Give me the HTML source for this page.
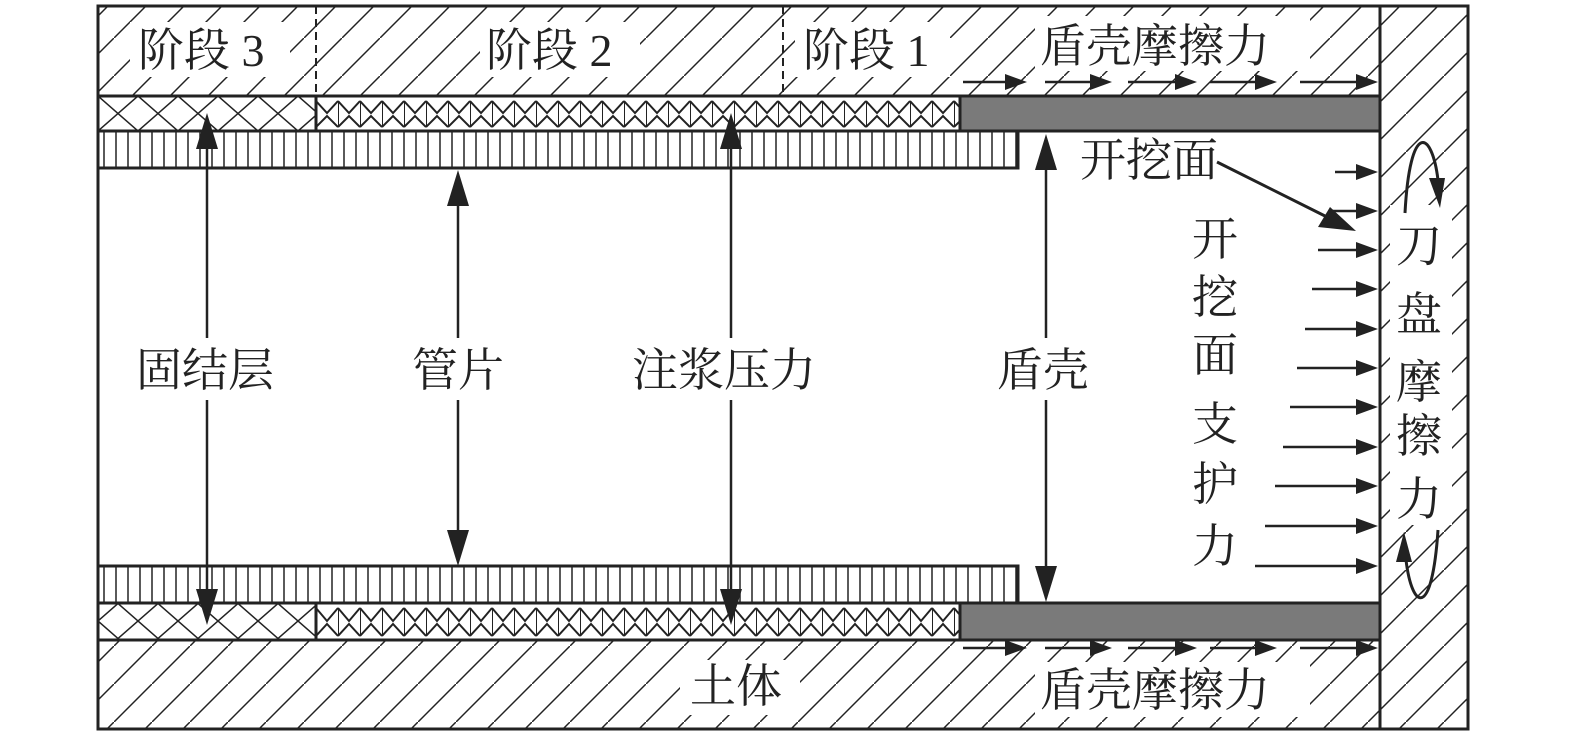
<!DOCTYPE html>
<html><head><meta charset="utf-8"><style>
body{margin:0;background:#fff}
svg{display:block}
text{font-family:"Liberation Serif","Noto Serif CJK SC","Noto Sans CJK SC",serif;fill:#222}
</style></head><body>
<svg width="1575" height="738" viewBox="0 0 1575 738" xmlns="http://www.w3.org/2000/svg">
<defs>
<pattern id="h" patternUnits="userSpaceOnUse" width="38" height="38">
<line x1="0" y1="38" x2="38" y2="0" stroke="#222" stroke-width="1.5"/>
</pattern>
<pattern id="x" patternUnits="userSpaceOnUse" width="40" height="35" x="98" y="96">
<line x1="0" y1="0" x2="40" y2="35" stroke="#222" stroke-width="1.5"/>
<line x1="40" y1="0" x2="0" y2="35" stroke="#222" stroke-width="1.5"/>
</pattern>
<pattern id="z" patternUnits="userSpaceOnUse" width="22" height="35" x="316" y="96">
<polyline points="0,5 11,17 22,5" fill="none" stroke="#222" stroke-width="2"/>
<polyline points="0,31 11,20 22,31" fill="none" stroke="#222" stroke-width="2"/>
<line x1="0" y1="5" x2="0" y2="31" stroke="#222" stroke-width="2"/>
</pattern>
<pattern id="z2" patternUnits="userSpaceOnUse" width="22" height="37" x="316" y="603">
<polyline points="0,5 11,18 22,5" fill="none" stroke="#222" stroke-width="2"/>
<polyline points="0,33 11,21 22,33" fill="none" stroke="#222" stroke-width="2"/>
<line x1="0" y1="5" x2="0" y2="33" stroke="#222" stroke-width="2"/>
</pattern>
<pattern id="v" patternUnits="userSpaceOnUse" width="12" height="40" x="98">
<line x1="6" y1="0" x2="6" y2="40" stroke="#222" stroke-width="1.5"/>
</pattern>
</defs>
<g stroke="#222" stroke-width="3">
<rect x="98" y="6" width="1282" height="90" fill="url(#h)"/>
<rect x="98" y="640" width="1282" height="89" fill="url(#h)"/>
<rect x="1380" y="6" width="88" height="723" fill="url(#h)"/>
<rect x="98" y="6" width="1370" height="723" fill="none"/>
<rect x="98" y="96" width="218" height="35" fill="url(#x)"/>
<rect x="316" y="96" width="644" height="35" fill="url(#z)"/>
<rect x="960" y="96" width="420" height="35" fill="#7a7a7a"/>
<rect x="98" y="131" width="920" height="37" fill="url(#v)"/>
<rect x="98" y="566" width="920" height="37" fill="url(#v)"/>
<rect x="98" y="603" width="218" height="37" fill="url(#x)"/>
<rect x="316" y="603" width="644" height="37" fill="url(#z2)"/>
<rect x="960" y="603" width="420" height="37" fill="#7a7a7a"/>
</g>
<g stroke="#222" stroke-width="2" stroke-dasharray="8,5">
<line x1="316" y1="6" x2="316" y2="96"/><line x1="783" y1="6" x2="783" y2="96"/>
</g>
<rect x="130" y="22" width="160" height="55" fill="#fff"/>
<rect x="480" y="22" width="160" height="55" fill="#fff"/>
<rect x="795" y="22" width="155" height="55" fill="#fff"/>
<rect x="1035" y="16" width="275" height="55" fill="#fff"/>
<rect x="680" y="660" width="120" height="55" fill="#fff"/>
<rect x="1035" y="662" width="275" height="55" fill="#fff"/>
<g font-size="46">
<text x="138" y="66">阶段 3</text>
<text x="486" y="66">阶段 2</text>
<text x="803" y="66">阶段 1</text>
<text x="1040" y="62">盾壳摩擦力</text>
<text x="690" y="702">土体</text>
<text x="1040" y="706">盾壳摩擦力</text>
</g>
<g stroke="#222" stroke-width="2.5">
<line x1="207" y1="125" x2="207" y2="615"/>
<line x1="458" y1="180" x2="458" y2="555"/>
<line x1="731" y1="125" x2="731" y2="615"/>
<line x1="1046" y1="145" x2="1046" y2="590"/>
</g>
<g fill="#222">
<path d="M207,113 l-11,36 h22z M207,625 l-11,-36 h22z"/>
<path d="M458,170 l-11,36 h22z M458,566 l-11,-36 h22z"/>
<path d="M731,113 l-11,36 h22z M731,625 l-11,-36 h22z"/>
<path d="M1046,134 l-11,36 h22z M1046,602 l-11,-36 h22z"/>
</g>
<g fill="#fff">
<rect x="132" y="338" width="160" height="62"/><rect x="408" y="338" width="106" height="62"/>
<rect x="628" y="338" width="214" height="62"/><rect x="993" y="338" width="114" height="62"/>
</g>
<g font-size="46">
<text x="136" y="386">固结层</text><text x="412" y="386">管片</text>
<text x="632" y="386">注浆压力</text><text x="997" y="386">盾壳</text>
<text x="1080" y="176">开挖面</text>
<text x="1192" y="255">开</text><text x="1192" y="313">挖</text><text x="1192" y="371">面</text>
<text x="1192" y="440">支</text><text x="1192" y="500">护</text><text x="1192" y="562">力</text>
</g>
<rect x="1390" y="205" width="62" height="320" fill="#fff"/>
<g font-size="46">
<text x="1396" y="262">刀</text><text x="1396" y="330">盘</text><text x="1396" y="398">摩</text>
<text x="1396" y="452">擦</text><text x="1396" y="515">力</text>
</g>
<g stroke="#222" stroke-width="2.5">
<line x1="963" y1="82" x2="1010" y2="82"/><line x1="1045" y1="82" x2="1095" y2="82"/>
<line x1="1128" y1="82" x2="1180" y2="82"/><line x1="1210" y1="82" x2="1260" y2="82"/>
<line x1="1300" y1="82" x2="1360" y2="82"/>
<line x1="963" y1="648" x2="1010" y2="648"/><line x1="1045" y1="648" x2="1095" y2="648"/>
<line x1="1128" y1="648" x2="1180" y2="648"/><line x1="1210" y1="648" x2="1260" y2="648"/>
<line x1="1300" y1="648" x2="1360" y2="648"/>
<line x1="1335" y1="172" x2="1360" y2="172"/><line x1="1330" y1="211" x2="1360" y2="211"/>
<line x1="1318" y1="250" x2="1360" y2="250"/><line x1="1312" y1="289" x2="1360" y2="289"/>
<line x1="1305" y1="329" x2="1360" y2="329"/><line x1="1297" y1="368" x2="1360" y2="368"/>
<line x1="1290" y1="407" x2="1360" y2="407"/><line x1="1283" y1="447" x2="1360" y2="447"/>
<line x1="1275" y1="486" x2="1360" y2="486"/><line x1="1265" y1="526" x2="1360" y2="526"/>
<line x1="1255" y1="566" x2="1360" y2="566"/>
</g>
<g fill="#222">
<path d="M1027,82 l-22,-8 v16z M1112,82 l-22,-8 v16z M1197,82 l-22,-8 v16z M1277,82 l-22,-8 v16z M1378,82 l-22,-8 v16z"/>
<path d="M1027,648 l-22,-8 v16z M1112,648 l-22,-8 v16z M1197,648 l-22,-8 v16z M1277,648 l-22,-8 v16z M1378,648 l-22,-8 v16z"/>
<path d="M1378,172 l-22,-8 v16z M1378,211 l-22,-8 v16z M1378,250 l-22,-8 v16z M1378,289 l-22,-8 v16z M1378,329 l-22,-8 v16z M1378,368 l-22,-8 v16z M1378,407 l-22,-8 v16z M1378,447 l-22,-8 v16z M1378,486 l-22,-8 v16z M1378,526 l-22,-8 v16z M1378,566 l-22,-8 v16z"/>
</g>
<line x1="1217" y1="162" x2="1325" y2="216" stroke="#222" stroke-width="3"/>
<path d="M1356,231 l-38,-4 l12,-20z" fill="#222"/>
<path d="M1405,213 C1410,120 1432,130 1438,180" fill="none" stroke="#222" stroke-width="3"/>
<path d="M1440,208 l-11,-30 h16z" fill="#222"/>
<path d="M1438,530 C1432,620 1412,610 1406,560" fill="none" stroke="#222" stroke-width="3"/>
<path d="M1404,532 l-8,30 h16z" fill="#222"/>
</svg>
</body></html>
